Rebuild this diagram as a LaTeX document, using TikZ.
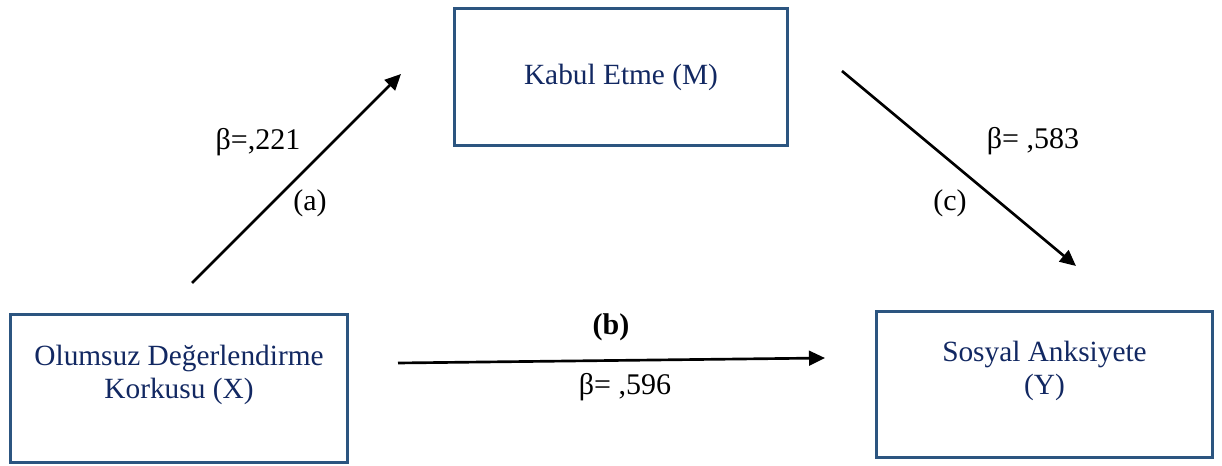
\documentclass[tikz,border=0pt]{standalone}
\usepackage{fontspec}
\setmainfont{Liberation Serif}
\usetikzlibrary{arrows.meta,positioning}
\definecolor{bordc}{RGB}{44,85,128}
\definecolor{txtc}{RGB}{18,40,98}

\begin{document}
\begin{tikzpicture}[
  x=0.75pt, y=-0.75pt,
  vbox/.style={draw=bordc, line width=2.2pt, fill=white, align=center, text=txtc,
    font=\fontsize{22}{25}\selectfont},
  blab/.style={font=\fontsize{22.5}{25}\selectfont, inner sep=0pt},
  arr/.style={line width=2pt, -{Triangle[length=12pt,width=11pt]}}
 ]
  \useasboundingbox (0,0) rectangle (1222,466);

  \node [vbox, minimum width=252.75pt, minimum height=111pt] (X) at (179,388.5)
    {Olumsuz Değerlendirme\\Korkusu (X)\\~};
  \node [vbox, minimum width=250pt, minimum height=103pt] (M) at (621,77)
    {Kabul Etme (M)};
  \node [vbox, minimum width=252pt, minimum height=109.5pt] (Y) at (1044.5,384.5)
    {Sosyal Anksiyete\\(Y)\\~};

  % arrow ends
  \coordinate (a0) at (192,283);
  \coordinate (a1) at (401,74);
  \coordinate (b0) at (398,363);
  \coordinate (b1) at (825,358);
  \coordinate (c0) at (842,71);
  \coordinate (c1) at (1076,266);

  \draw [arr] (a0) -- (a1);
  \draw [arr] (b0) -- (b1);
  \draw [arr] (c0) -- (c1);

  \node [blab] (la) at (258,142) {β=,221};
  \node [blab] (pa) at (310,203) {(a)};
  \node [blab] (lc) at (1033,141) {β= ,583};
  \node [blab] (pc) at (950,203) {(c)};
  \node [blab] (pb) at (611,327) {\textbf{(b)}};
  \node [blab] (lb) at (625,387) {β= ,596};
\end{tikzpicture}
\end{document}
